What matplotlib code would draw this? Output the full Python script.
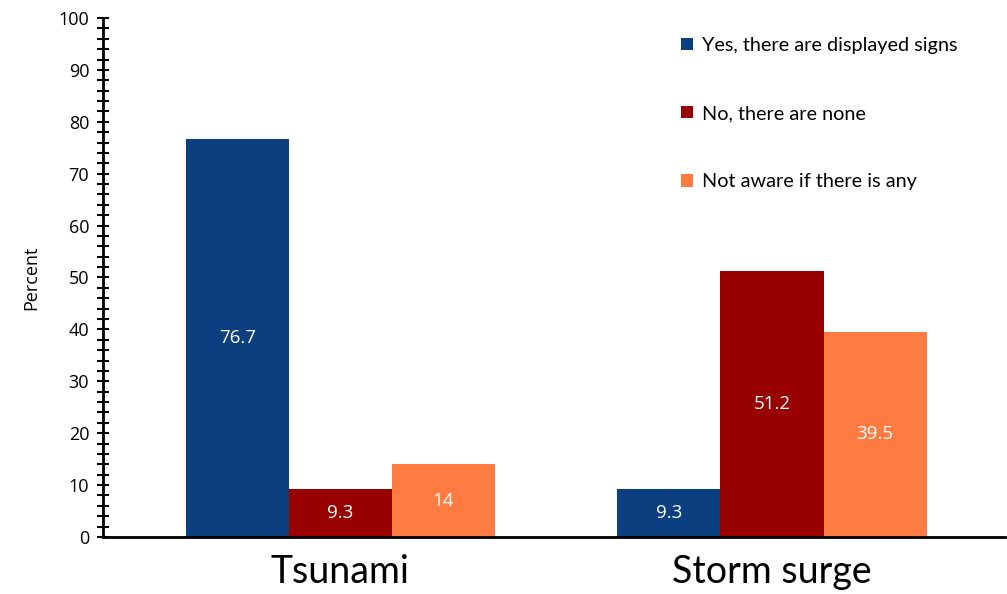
import numpy as np
import matplotlib.pyplot as plt
from matplotlib.ticker import MultipleLocator

plt.rcParams['font.family'] = ['Lato', 'DejaVu Sans']
NUM_FONT = ['Open Sans', 'DejaVu Sans']

# ----------------------------------------------------------
# Data
# ----------------------------------------------------------
hazards = ["Tsunami", "Storm surge"]
answers = ["Yes, there are displayed signs", "No, there are none", "Not aware if there is any"]
yes_signs = [76.7, 9.3]
no_signs = [9.3, 51.2]
not_aware = [14, 39.5]
bar_colors = ["#0B3F80", "#990000", "#FF7B42"]

series = [yes_signs, no_signs, not_aware]

fig = plt.figure(figsize=(10.07, 5.94), dpi=100)
ax = fig.add_axes([0.1023, 0.096, 0.8957, 0.8737])

x = np.arange(len(hazards))
width = 0.239

for i, (vals, label, color) in enumerate(zip(series, answers, bar_colors)):
    pos = x + (i - 1) * width
    bars = ax.bar(pos, vals, width=width, color=color, label=label)
    for b, v in zip(bars, vals):
        ax.text(b.get_x() + b.get_width() / 2, v / 2, f"{v:g}",
                ha="center", va="center", color="white", fontsize=13.5,
                family=NUM_FONT)

ax.set_xlim(-0.55, 1.54)
ax.set_ylim(0, 100)
ax.set_xticks(x)
ax.set_xticklabels(hazards, fontsize=27)
ax.tick_params(axis="x", length=0, pad=12)

ax.yaxis.set_major_locator(MultipleLocator(10))
ax.yaxis.set_minor_locator(MultipleLocator(2))
ax.tick_params(axis="y", which="major", direction="inout", length=8, width=1.5,
               labelsize=13, labelfontfamily="Open Sans", pad=6)
ax.tick_params(axis="y", which="minor", direction="inout", length=8, width=1.5)

ax.set_ylabel("Percent", fontsize=13, family=NUM_FONT)
ax.yaxis.set_label_coords(-0.07, 0.5)

for side in ["top", "right"]:
    ax.spines[side].set_visible(False)
ax.spines["left"].set_linewidth(2)
ax.spines["bottom"].set_linewidth(2)

ax.legend(loc="upper left", bbox_to_anchor=(0.621, 0.998), frameon=False,
          fontsize=14.3, handlelength=0.6, handleheight=0.6,
          handletextpad=0.45, labelspacing=2.58)

fig.savefig("out.png", dpi=100)
